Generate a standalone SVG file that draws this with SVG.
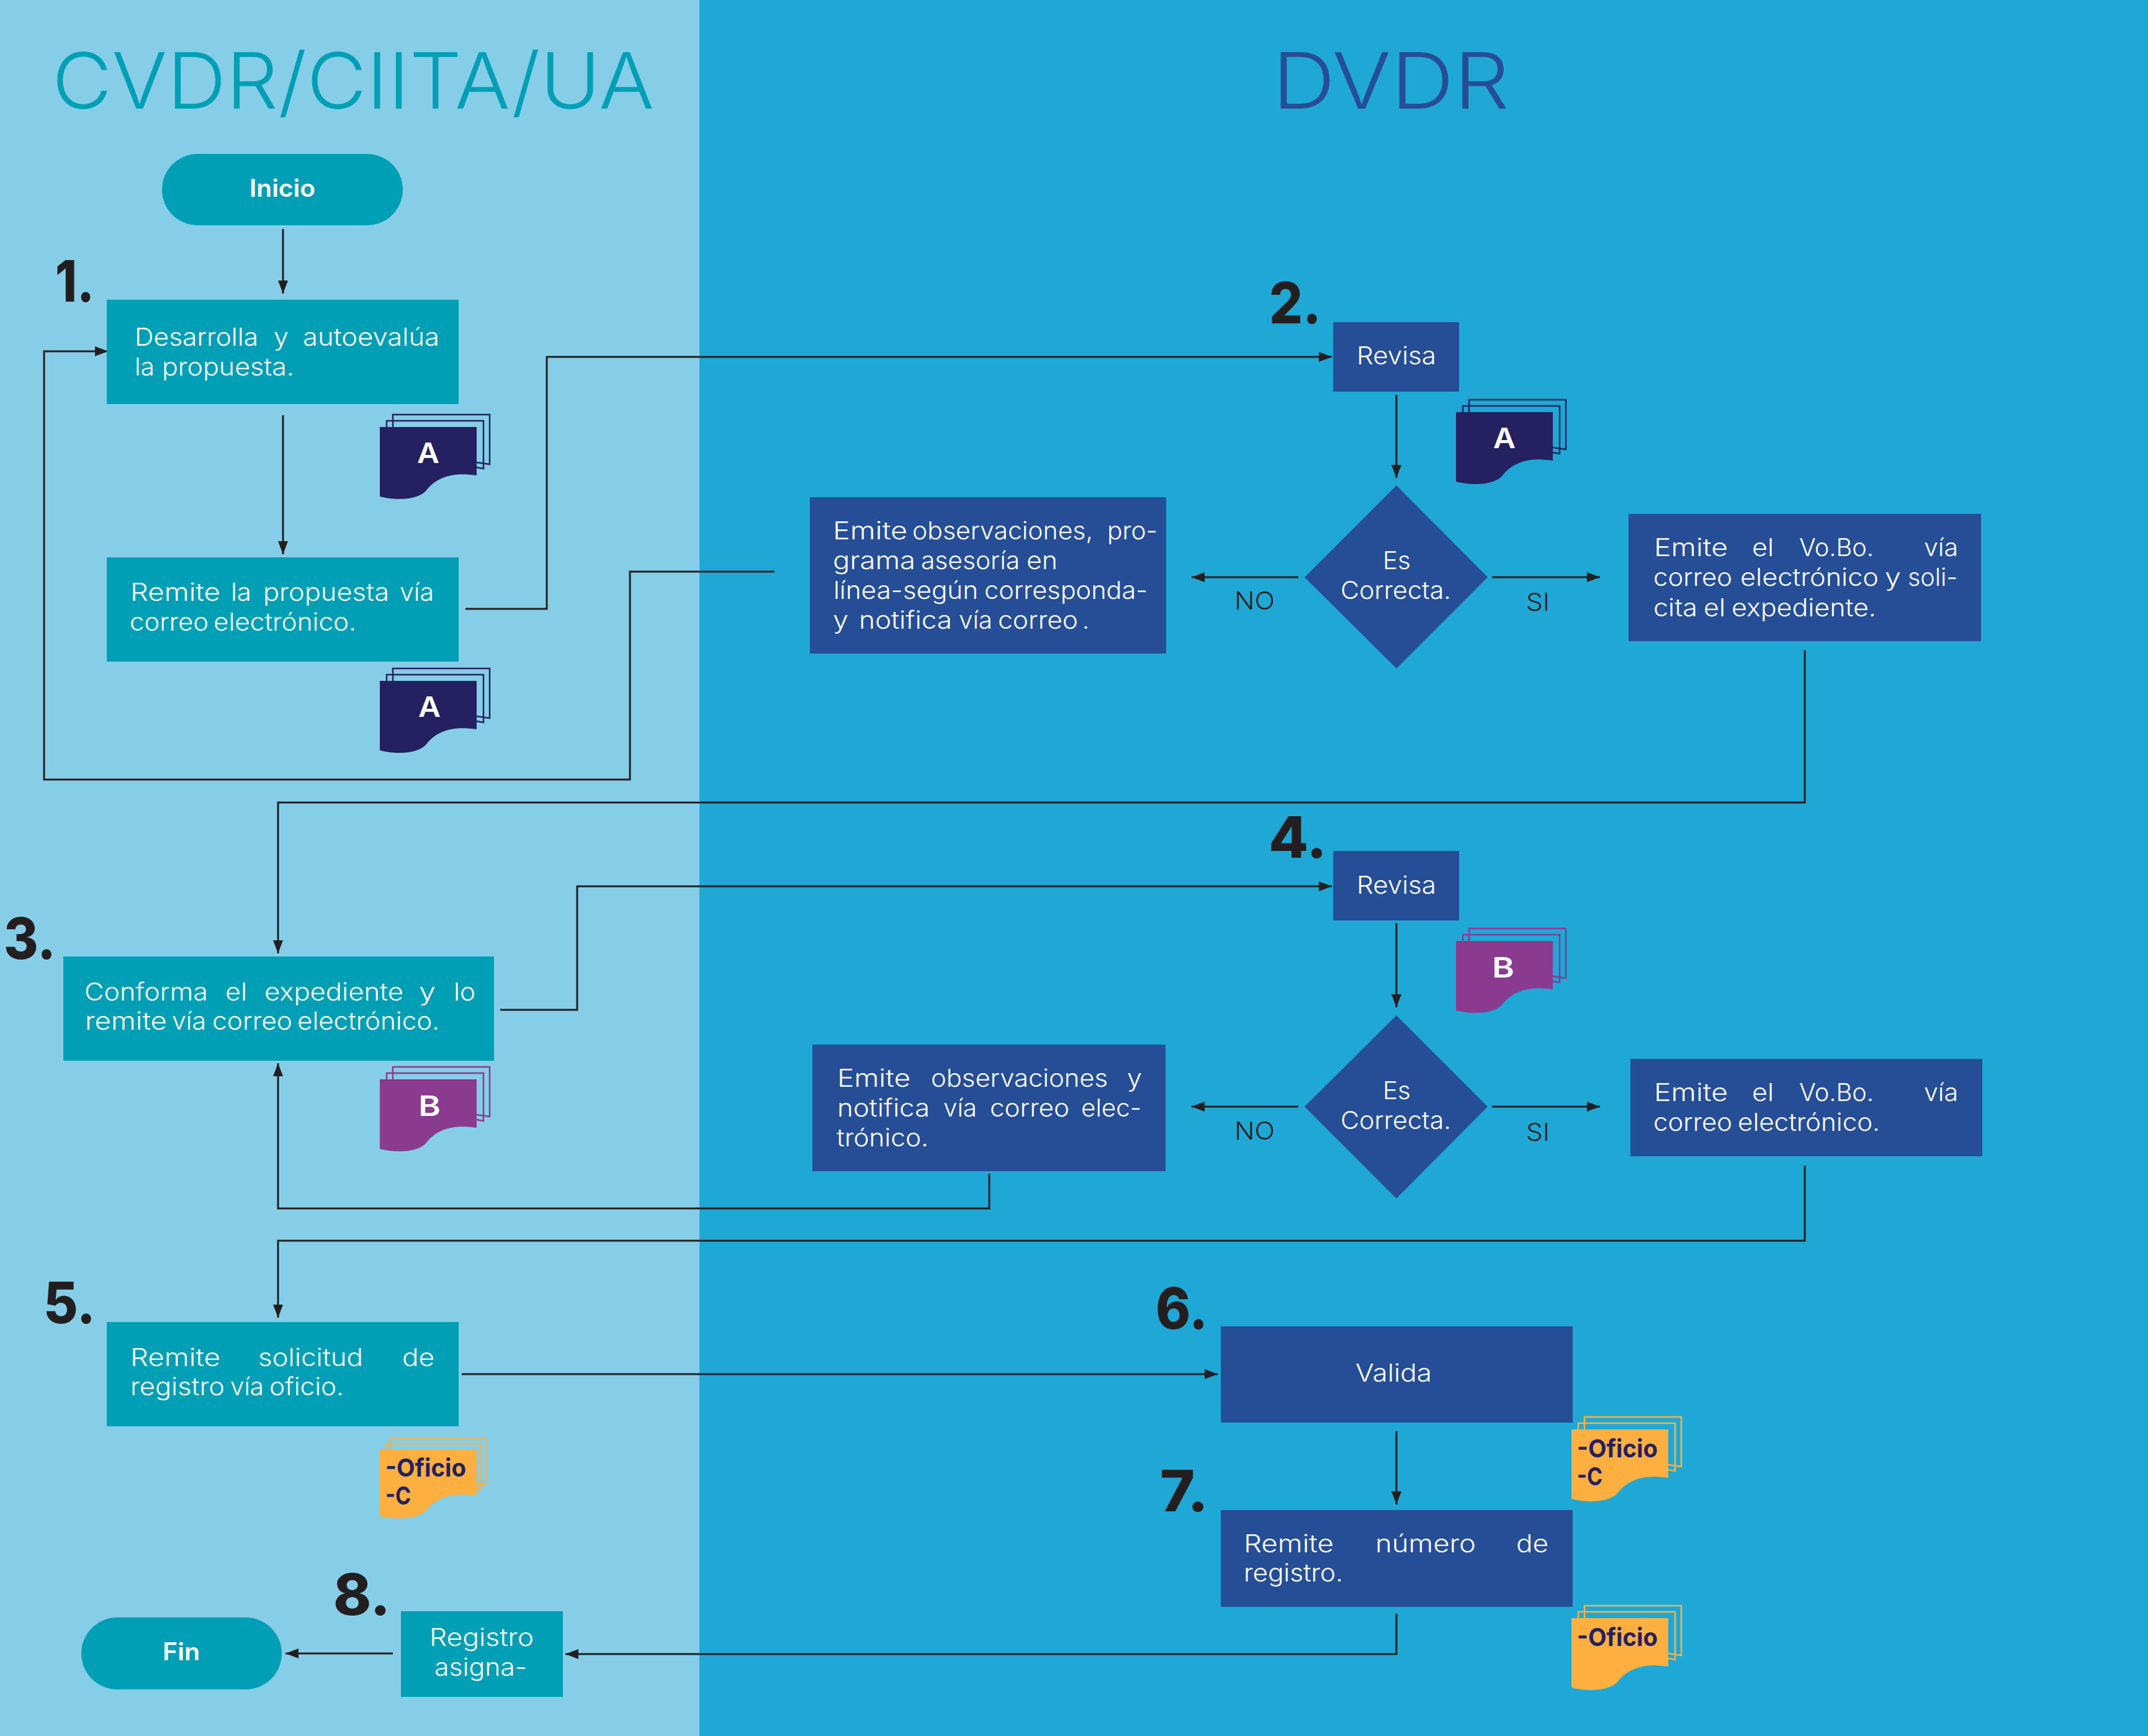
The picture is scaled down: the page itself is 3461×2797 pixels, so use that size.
<svg xmlns="http://www.w3.org/2000/svg" width="3461" height="2797" viewBox="0 0 3461 2797">
<style>
text{font-family:"Inter","Liberation Sans",sans-serif}
.t{font-size:39px;font-weight:300;fill:#fff}
.tn{font-size:125px;font-weight:300}
.n{font-size:92px;font-weight:800;fill:#231f20}
.p{font-size:39px;font-weight:600;fill:#fff}
.l{font-size:39px;font-weight:300;fill:#231f20}
.tb{fill:#009fb5}
.bb{fill:#254e97}
.c{fill:none;stroke:#231f20;stroke-width:3}
.ba{font-size:45px;font-weight:600;fill:#fff}
.of{font-size:40px;font-weight:700;fill:#25205f}
.sheet{fill:none;stroke-width:2.5}
</style>
<defs>
<marker id="ah" markerUnits="userSpaceOnUse" markerWidth="22" markerHeight="16" refX="21" refY="8" orient="auto"><path d="M0 0L21 8L0 16z" fill="#231f20"/></marker>
<path id="page" d="M0 0H156V78C140 76 100 70 75 102C64 116 30 120 0 112Z"/>
<path id="s1" d="M11 0V-10H167V67L156 65"/>
<path id="s2" d="M21 0V-20H177V60L156 57"/>
<path id="s1b" d="M10 0V-9H163V64L156 63"/>
<path id="s2b" d="M18 0V-18H171V58L156 56"/>
</defs>
<rect id="lane-left" x="0" y="0" width="1127" height="2797" fill="#86cde7"/>
<rect id="lane-right" x="1127" y="0" width="2334" height="2797" fill="#1fa8d6"/>
<text class="tn tb" y="175"><tspan x="84" textLength="970" lengthAdjust="spacingAndGlyphs">CVDR/CIITA/UA</tspan></text>
<text class="tn" fill="#254e97" y="175"><tspan x="2050" textLength="382" lengthAdjust="spacingAndGlyphs">DVDR</tspan></text>

<g id="connectors" class="c">
<path d="M456 369V473" marker-end="url(#ah)"/>
<path d="M456 669V893" marker-end="url(#ah)"/>
<path d="M1248 921H1015V1256H71V566H174" marker-end="url(#ah)"/>
<path d="M750 981H881V575H2146" marker-end="url(#ah)"/>
<path d="M2250 636V770" marker-end="url(#ah)"/>
<path d="M2092 930H1920" marker-end="url(#ah)"/>
<path d="M2404 930H2578" marker-end="url(#ah)"/>
<path d="M2908 1048V1293H448V1536" marker-end="url(#ah)"/>
<path d="M806 1627H930V1428H2146" marker-end="url(#ah)"/>
<path d="M2250 1487V1623" marker-end="url(#ah)"/>
<path d="M2092 1783H1920" marker-end="url(#ah)"/>
<path d="M2404 1783H2578" marker-end="url(#ah)"/>
<path d="M1594 1891V1947H448V1713" marker-end="url(#ah)"/>
<path d="M2908 1878V1999H448V2123" marker-end="url(#ah)"/>
<path d="M744 2214H1962" marker-end="url(#ah)"/>
<path d="M2250 2306V2424" marker-end="url(#ah)"/>
<path d="M2250 2600V2665H911" marker-end="url(#ah)"/>
<path d="M633 2664H460" marker-end="url(#ah)"/>
</g>

<g id="inicio"><rect class="tb" x="261" y="248" width="388" height="115" rx="57.5"/><text class="p" y="317"><tspan x="402" textLength="106" lengthAdjust="spacingAndGlyphs">Inicio</tspan></text></g>

<g id="n1"><text class="n" y="486"><tspan x="89" textLength="63" lengthAdjust="spacingAndGlyphs">1.</tspan></text>
<rect class="tb" x="172" y="483" width="567" height="168"/>
<text class="t" y="557"><tspan x="217" textLength="199" lengthAdjust="spacingAndGlyphs">Desarrolla</tspan> <tspan x="441" textLength="24" lengthAdjust="spacingAndGlyphs">y</tspan> <tspan x="488" textLength="220" lengthAdjust="spacingAndGlyphs">autoevalúa</tspan></text>
<text class="t" y="605"><tspan x="217" textLength="32" lengthAdjust="spacingAndGlyphs">la</tspan> <tspan x="261" textLength="213" lengthAdjust="spacingAndGlyphs">propuesta.</tspan></text></g>

<g id="doc-a1" transform="translate(612 688)" fill="#25205f" stroke="#25205f"><use href="#s1" class="sheet"/><use href="#s2" class="sheet"/><use href="#page" stroke="none"/><text class="ba" y="58" stroke="none"><tspan x="60" textLength="36" lengthAdjust="spacingAndGlyphs">A</tspan></text></g>

<g id="n1b"><rect class="tb" x="172" y="898" width="567" height="168"/>
<text class="t" y="968"><tspan x="210" textLength="145" lengthAdjust="spacingAndGlyphs">Remite</tspan> <tspan x="372" textLength="33" lengthAdjust="spacingAndGlyphs">la</tspan> <tspan x="424" textLength="203" lengthAdjust="spacingAndGlyphs">propuesta</tspan> <tspan x="644" textLength="55" lengthAdjust="spacingAndGlyphs">vía</tspan></text>
<text class="t" y="1016"><tspan x="209" textLength="127" lengthAdjust="spacingAndGlyphs">correo</tspan> <tspan x="344" textLength="230" lengthAdjust="spacingAndGlyphs">electrónico.</tspan></text></g>

<g id="doc-a2" transform="translate(612 1097)" fill="#25205f" stroke="#25205f"><use href="#s1" class="sheet"/><use href="#s2" class="sheet"/><use href="#page" stroke="none"/><text class="ba" y="58" stroke="none"><tspan x="62" textLength="36" lengthAdjust="spacingAndGlyphs">A</tspan></text></g>

<g id="n2"><text class="n" y="521"><tspan x="2045" textLength="84" lengthAdjust="spacingAndGlyphs">2.</tspan></text>
<rect class="bb" x="2148" y="519" width="203" height="112"/>
<text class="t" y="587"><tspan x="2186" textLength="128" lengthAdjust="spacingAndGlyphs">Revisa</tspan></text></g>

<g id="doc-a3" transform="translate(2346 664)" fill="#25205f" stroke="#25205f"><use href="#s1" class="sheet"/><use href="#s2" class="sheet"/><use href="#page" stroke="none"/><text class="ba" y="58" stroke="none"><tspan x="60" textLength="36" lengthAdjust="spacingAndGlyphs">A</tspan></text></g>

<g id="d1"><path class="bb" d="M2250 782L2397 930L2250 1077L2102 930Z"/>
<text class="t" y="917"><tspan x="2228" textLength="45" lengthAdjust="spacingAndGlyphs">Es</tspan></text>
<text class="t" y="965"><tspan x="2160" textLength="178" lengthAdjust="spacingAndGlyphs">Correcta.</tspan></text></g>
<text class="l" y="982"><tspan x="1989" textLength="65" lengthAdjust="spacingAndGlyphs">NO</tspan></text>
<text class="l" y="984"><tspan x="2459" textLength="38" lengthAdjust="spacingAndGlyphs">SI</tspan></text>

<g id="obs1"><rect class="bb" x="1305" y="801" width="574" height="252"/>
<text class="t" y="869"><tspan x="1342" textLength="120" lengthAdjust="spacingAndGlyphs">Emite</tspan> <tspan x="1470" textLength="291" lengthAdjust="spacingAndGlyphs">observaciones,</tspan> <tspan x="1784" textLength="81" lengthAdjust="spacingAndGlyphs">pro-</tspan></text>
<text class="t" y="917"><tspan x="1342" textLength="133" lengthAdjust="spacingAndGlyphs">grama</tspan> <tspan x="1484" textLength="159" lengthAdjust="spacingAndGlyphs">asesoría</tspan> <tspan x="1654" textLength="50" lengthAdjust="spacingAndGlyphs">en</tspan></text>
<text class="t" y="965"><tspan x="1343" textLength="233" lengthAdjust="spacingAndGlyphs">línea-según</tspan> <tspan x="1586" textLength="263" lengthAdjust="spacingAndGlyphs">corresponda-</tspan></text>
<text class="t" y="1013"><tspan x="1342" textLength="25" lengthAdjust="spacingAndGlyphs">y</tspan> <tspan x="1384" textLength="150" lengthAdjust="spacingAndGlyphs">notifica</tspan> <tspan x="1545" textLength="54" lengthAdjust="spacingAndGlyphs">vía</tspan> <tspan x="1608" textLength="129" lengthAdjust="spacingAndGlyphs">correo</tspan> <tspan x="1744">.</tspan></text></g>

<g id="vobo1"><rect class="bb" x="2624" y="828" width="568" height="205"/>
<text class="t" y="896"><tspan x="2665" textLength="119" lengthAdjust="spacingAndGlyphs">Emite</tspan> <tspan x="2823" textLength="35" lengthAdjust="spacingAndGlyphs">el</tspan> <tspan x="2899" textLength="120" lengthAdjust="spacingAndGlyphs">Vo.Bo.</tspan> <tspan x="3100" textLength="55" lengthAdjust="spacingAndGlyphs">vía</tspan></text>
<text class="t" y="944"><tspan x="2664" textLength="127" lengthAdjust="spacingAndGlyphs">correo</tspan> <tspan x="2804" textLength="223" lengthAdjust="spacingAndGlyphs">electrónico</tspan> <tspan x="3037" textLength="26" lengthAdjust="spacingAndGlyphs">y</tspan> <tspan x="3074" textLength="80" lengthAdjust="spacingAndGlyphs">soli-</tspan></text>
<text class="t" y="993"><tspan x="2664" textLength="71" lengthAdjust="spacingAndGlyphs">cita</tspan> <tspan x="2745" textLength="35" lengthAdjust="spacingAndGlyphs">el</tspan> <tspan x="2790" textLength="233" lengthAdjust="spacingAndGlyphs">expediente.</tspan></text></g>

<g id="n3"><text class="n" y="1545"><tspan x="6" textLength="84" lengthAdjust="spacingAndGlyphs">3.</tspan></text>
<rect class="tb" x="102" y="1541" width="694" height="168"/>
<text class="t" y="1612"><tspan x="136" textLength="199" lengthAdjust="spacingAndGlyphs">Conforma</tspan> <tspan x="363" textLength="35" lengthAdjust="spacingAndGlyphs">el</tspan> <tspan x="426" textLength="224" lengthAdjust="spacingAndGlyphs">expediente</tspan> <tspan x="675" textLength="27" lengthAdjust="spacingAndGlyphs">y</tspan> <tspan x="731" textLength="35" lengthAdjust="spacingAndGlyphs">lo</tspan></text>
<text class="t" y="1659"><tspan x="137" textLength="132" lengthAdjust="spacingAndGlyphs">remite</tspan> <tspan x="277" textLength="55" lengthAdjust="spacingAndGlyphs">vía</tspan> <tspan x="342" textLength="129" lengthAdjust="spacingAndGlyphs">correo</tspan> <tspan x="479" textLength="229" lengthAdjust="spacingAndGlyphs">electrónico.</tspan></text></g>

<g id="doc-b1" transform="translate(612 1739)" fill="#8a3a8f" stroke="#8a3a8f"><use href="#s1" class="sheet"/><use href="#s2" class="sheet"/><use href="#page" stroke="none"/><text class="ba" y="59" stroke="none"><tspan x="62" textLength="36" lengthAdjust="spacingAndGlyphs">B</tspan></text></g>

<g id="n4"><text class="n" y="1382"><tspan x="2044" textLength="94" lengthAdjust="spacingAndGlyphs">4.</tspan></text>
<rect class="bb" x="2148" y="1371" width="203" height="112"/>
<text class="t" y="1440"><tspan x="2186" textLength="128" lengthAdjust="spacingAndGlyphs">Revisa</tspan></text></g>

<g id="doc-b2" transform="translate(2346 1516)" fill="#8a3a8f" stroke="#8a3a8f"><use href="#s1" class="sheet"/><use href="#s2" class="sheet"/><use href="#page" stroke="none"/><text class="ba" y="59" stroke="none"><tspan x="58" textLength="36" lengthAdjust="spacingAndGlyphs">B</tspan></text></g>

<g id="d2"><path class="bb" d="M2250 1636L2397 1783L2250 1931L2102 1783Z"/>
<text class="t" y="1771"><tspan x="2228" textLength="45" lengthAdjust="spacingAndGlyphs">Es</tspan></text>
<text class="t" y="1819"><tspan x="2160" textLength="178" lengthAdjust="spacingAndGlyphs">Correcta.</tspan></text></g>
<text class="l" y="1836"><tspan x="1989" textLength="65" lengthAdjust="spacingAndGlyphs">NO</tspan></text>
<text class="l" y="1838"><tspan x="2459" textLength="38" lengthAdjust="spacingAndGlyphs">SI</tspan></text>

<g id="obs2"><rect class="bb" x="1309" y="1683" width="569" height="204"/>
<text class="t" y="1751"><tspan x="1349" textLength="118" lengthAdjust="spacingAndGlyphs">Emite</tspan> <tspan x="1500" textLength="285" lengthAdjust="spacingAndGlyphs">observaciones</tspan> <tspan x="1816" textLength="24" lengthAdjust="spacingAndGlyphs">y</tspan></text>
<text class="t" y="1799"><tspan x="1349" textLength="149" lengthAdjust="spacingAndGlyphs">notifica</tspan> <tspan x="1520" textLength="54" lengthAdjust="spacingAndGlyphs">vía</tspan> <tspan x="1595" textLength="128" lengthAdjust="spacingAndGlyphs">correo</tspan> <tspan x="1742" textLength="97" lengthAdjust="spacingAndGlyphs">elec-</tspan></text>
<text class="t" y="1847"><tspan x="1348" textLength="148" lengthAdjust="spacingAndGlyphs">trónico.</tspan></text></g>

<g id="vobo2"><rect class="bb" x="2627" y="1706" width="567" height="157"/>
<text class="t" y="1774"><tspan x="2665" textLength="119" lengthAdjust="spacingAndGlyphs">Emite</tspan> <tspan x="2823" textLength="35" lengthAdjust="spacingAndGlyphs">el</tspan> <tspan x="2899" textLength="120" lengthAdjust="spacingAndGlyphs">Vo.Bo.</tspan> <tspan x="3100" textLength="55" lengthAdjust="spacingAndGlyphs">vía</tspan></text>
<text class="t" y="1822"><tspan x="2664" textLength="127" lengthAdjust="spacingAndGlyphs">correo</tspan> <tspan x="2800" textLength="229" lengthAdjust="spacingAndGlyphs">electrónico.</tspan></text></g>

<g id="n5"><text class="n" y="2132"><tspan x="70" textLength="84" lengthAdjust="spacingAndGlyphs">5.</tspan></text>
<rect class="tb" x="172" y="2130" width="567" height="168"/>
<text class="t" y="2201"><tspan x="210" textLength="145" lengthAdjust="spacingAndGlyphs">Remite</tspan> <tspan x="416" textLength="169" lengthAdjust="spacingAndGlyphs">solicitud</tspan> <tspan x="648" textLength="52" lengthAdjust="spacingAndGlyphs">de</tspan></text>
<text class="t" y="2248"><tspan x="210" textLength="152" lengthAdjust="spacingAndGlyphs">registro</tspan> <tspan x="371" textLength="54" lengthAdjust="spacingAndGlyphs">vía</tspan> <tspan x="434" textLength="120" lengthAdjust="spacingAndGlyphs">oficio.</tspan></text></g>

<g id="doc-c1" transform="translate(612 2335)" fill="#fdaf3f" stroke="#fdaf3f"><use href="#s1b" class="sheet"/><use href="#s2b" class="sheet"/><use href="#page" stroke="none" transform="scale(1 .96)"/><text class="of" y="44" stroke="none"><tspan x="9" textLength="130" lengthAdjust="spacingAndGlyphs">-Oficio</tspan></text><text class="of" y="89" stroke="none"><tspan x="9" textLength="41" lengthAdjust="spacingAndGlyphs">-C</tspan></text></g>

<g id="n6"><text class="n" y="2141"><tspan x="1862" textLength="84" lengthAdjust="spacingAndGlyphs">6.</tspan></text>
<rect class="bb" x="1967" y="2137" width="567" height="155"/>
<text class="t" y="2226"><tspan x="2184" textLength="123" lengthAdjust="spacingAndGlyphs">Valida</tspan></text></g>

<g id="doc-c2" transform="translate(2532 2303)" fill="#fdaf3f" stroke="#fdaf3f"><use href="#s1" class="sheet"/><use href="#s2" class="sheet"/><use href="#page" stroke="none"/><text class="of" y="45" stroke="none"><tspan x="9" textLength="130" lengthAdjust="spacingAndGlyphs">-Oficio</tspan></text><text class="of" y="90" stroke="none"><tspan x="9" textLength="41" lengthAdjust="spacingAndGlyphs">-C</tspan></text></g>

<g id="n7"><text class="n" y="2435"><tspan x="1869" textLength="78" lengthAdjust="spacingAndGlyphs">7.</tspan></text>
<rect class="bb" x="1967" y="2433" width="567" height="156"/>
<text class="t" y="2501"><tspan x="2004" textLength="145" lengthAdjust="spacingAndGlyphs">Remite</tspan> <tspan x="2216" textLength="162" lengthAdjust="spacingAndGlyphs">número</tspan> <tspan x="2443" textLength="52" lengthAdjust="spacingAndGlyphs">de</tspan></text>
<text class="t" y="2548"><tspan x="2004" textLength="160" lengthAdjust="spacingAndGlyphs">registro.</tspan></text></g>

<g id="doc-c3" transform="translate(2532 2607)" fill="#fdaf3f" stroke="#fdaf3f"><use href="#s1" class="sheet"/><use href="#s2" class="sheet"/><use href="#page" stroke="none"/><text class="of" y="45" stroke="none"><tspan x="9" textLength="130" lengthAdjust="spacingAndGlyphs">-Oficio</tspan></text></g>

<g id="n8"><text class="n" y="2602"><tspan x="537" textLength="92" lengthAdjust="spacingAndGlyphs">8.</tspan></text>
<rect class="tb" x="646" y="2596" width="261" height="138"/>
<text class="t" y="2652"><tspan x="692" textLength="168" lengthAdjust="spacingAndGlyphs">Registro</tspan></text>
<text class="t" y="2700"><tspan x="700" textLength="149" lengthAdjust="spacingAndGlyphs">asigna-</tspan></text></g>

<g id="fin"><rect class="tb" x="131" y="2606" width="323" height="116" rx="58"/><text class="p" y="2675"><tspan x="262" textLength="60" lengthAdjust="spacingAndGlyphs">Fin</tspan></text></g>
</svg>
